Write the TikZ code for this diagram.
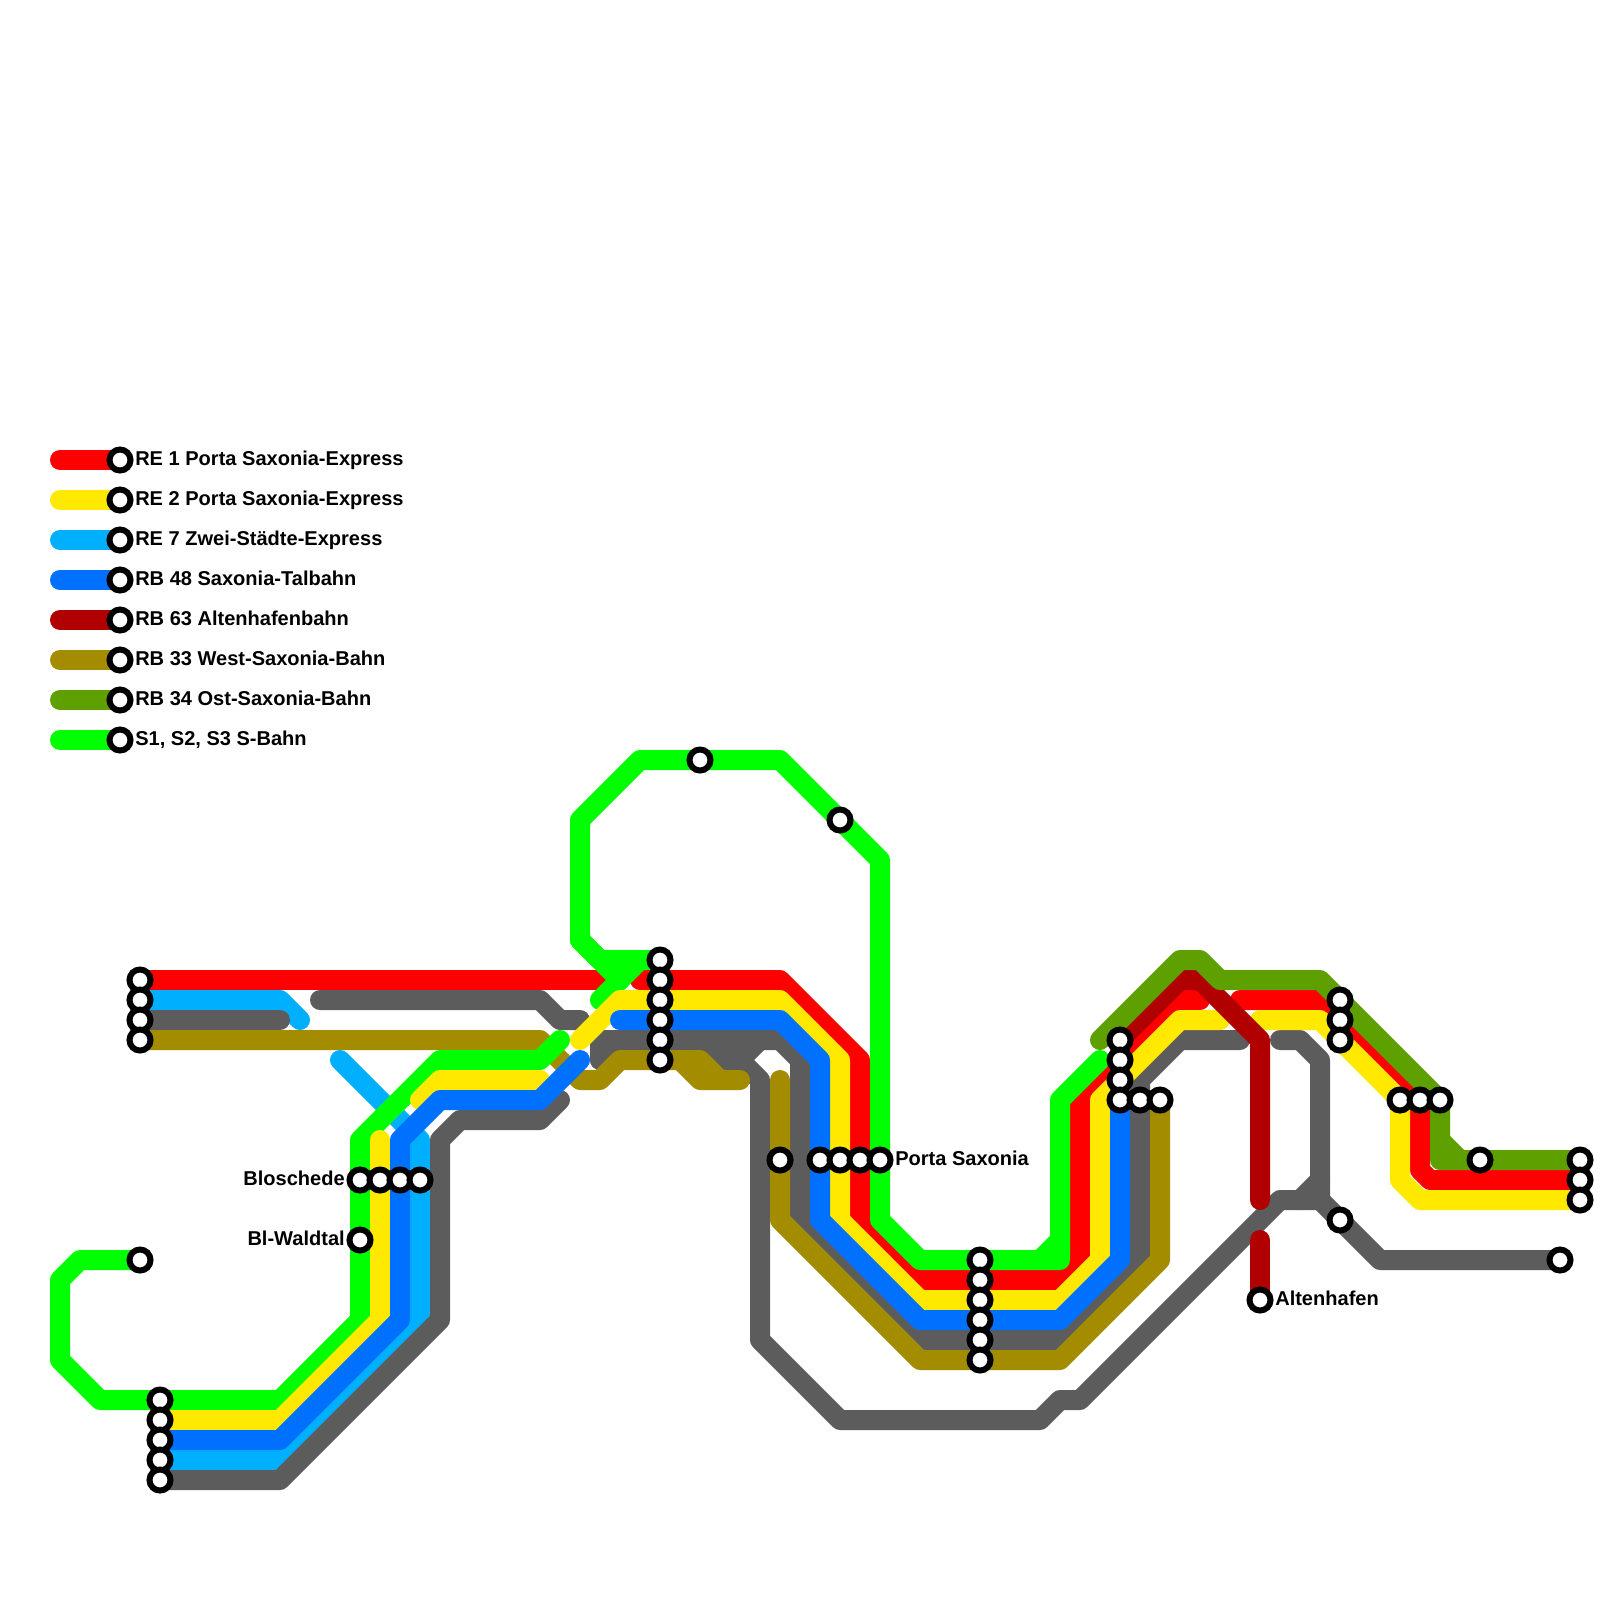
\documentclass[tikz,border=0pt]{standalone}
\usepackage{fontspec}
\setmainfont{Liberation Sans}
\usetikzlibrary{backgrounds}
\definecolor{re1}{HTML}{FF0000}
\definecolor{re2}{HTML}{FFE900}
\definecolor{re7}{HTML}{00B0FF}
\definecolor{rb48}{HTML}{0070FF}
\definecolor{rb63}{HTML}{B00000}
\definecolor{rb33}{HTML}{A38C00}
\definecolor{rb34}{HTML}{5EA000}
\definecolor{sbn}{HTML}{00FF00}
\definecolor{alt}{HTML}{5C5C5C}
\begin{document}
\begin{tikzpicture}[x=0.5cm, y=-0.5cm, font=\bfseries\fontsize{14.25}{16}\selectfont]
  \tikzstyle{trk}=[line width=0.5cm, line cap=round, line join=round]
  \tikzstyle{stn}=[circle, draw=black, fill=white, line width=0.15cm,
                   minimum size=0.525cm, inner sep=0pt]
  \tikzstyle{lbl}=[inner sep=0pt]

  % ================= legend =============
  \node[stn] (lg1) at (6,23) {};
  \node[stn] (lg2) at (6,25) {};
  \node[stn] (lg3) at (6,27) {};
  \node[stn] (lg4) at (6,29) {};
  \node[stn] (lg5) at (6,31) {};
  \node[stn] (lg6) at (6,33) {};
  \node[stn] (lg7) at (6,35) {};
  \node[stn] (lg8) at (6,37) {};
  \coordinate (ls1) at (3,23);
  \coordinate (ls2) at (3,25);
  \coordinate (ls3) at (3,27);
  \coordinate (ls4) at (3,29);
  \coordinate (ls5) at (3,31);
  \coordinate (ls6) at (3,33);
  \coordinate (ls7) at (3,35);
  \coordinate (ls8) at (3,37);
  \node[lbl, anchor=base west] (lt1) at (6.75,23.25) {RE 1 Porta Saxonia-Express};
  \node[lbl, anchor=base west] (lt2) at (6.75,25.25) {RE 2 Porta Saxonia-Express};
  \node[lbl, anchor=base west] (lt3) at (6.75,27.25) {RE 7 Zwei-Städte-Express};
  \node[lbl, anchor=base west] (lt4) at (6.75,29.25) {RB 48 Saxonia-Talbahn};
  \node[lbl, anchor=base west] (lt5) at (6.75,31.25) {RB 63 Altenhafenbahn};
  \node[lbl, anchor=base west] (lt6) at (6.75,33.25) {RB 33 West-Saxonia-Bahn};
  \node[lbl, anchor=base west] (lt7) at (6.75,35.25) {RB 34 Ost-Saxonia-Bahn};
  \node[lbl, anchor=base west] (lt8) at (6.75,37.25) {S1, S2, S3 S-Bahn};

  % ================= stations, west =============
  \node[stn] (w1) at (7,49) {};
  \node[stn] (w2) at (7,50) {};
  \node[stn] (w3) at (7,51) {};
  \node[stn] (w4) at (7,52) {};
  \node[stn] (k1) at (7,63) {};
  \node[stn] (u1) at (8,70) {};
  \node[stn] (u2) at (8,71) {};
  \node[stn] (u3) at (8,72) {};
  \node[stn] (u4) at (8,73) {};
  \node[stn] (u5) at (8,74) {};
  \node[stn] (bl1) at (18,59) {};
  \node[stn] (bl2) at (19,59) {};
  \node[stn] (bl3) at (20,59) {};
  \node[stn] (bl4) at (21,59) {};
  \node[stn] (wt1) at (18,62) {};
  \node[lbl, anchor=base east] (blt) at (17.25,59.25) {Bloschede};
  \node[lbl, anchor=base east] (wtt) at (17.25,62.25) {Bl-Waldtal};

  % ================= stations, middle =============
  \node[stn] (n1) at (33,48) {};
  \node[stn] (n2) at (33,49) {};
  \node[stn] (n3) at (33,50) {};
  \node[stn] (n4) at (33,51) {};
  \node[stn] (n5) at (33,52) {};
  \node[stn] (n6) at (33,53) {};
  \node[stn] (t1) at (35,38) {};
  \node[stn] (t2) at (42,41) {};
  \node[stn] (p0) at (39,58) {};
  \node[stn] (p1) at (41,58) {};
  \node[stn] (p2) at (42,58) {};
  \node[stn] (p3) at (43,58) {};
  \node[stn] (p4) at (44,58) {};
  \node[lbl, anchor=base west] (pt) at (44.75,58.25) {Porta Saxonia};
  \node[stn] (m1) at (49,63) {};
  \node[stn] (m2) at (49,64) {};
  \node[stn] (m3) at (49,65) {};
  \node[stn] (m4) at (49,66) {};
  \node[stn] (m5) at (49,67) {};
  \node[stn] (m6) at (49,68) {};

  % ================= stations, east =============
  \node[stn] (e1) at (56,52) {};
  \node[stn] (e2) at (56,53) {};
  \node[stn] (e3) at (56,54) {};
  \node[stn] (e4) at (56,55) {};
  \node[stn] (e5) at (57,55) {};
  \node[stn] (e6) at (58,55) {};
  \node[stn] (ah) at (63,65) {};
  \node[lbl, anchor=base west] (aht) at (63.75,65.25) {Altenhafen};
  \node[stn] (f1) at (67,50) {};
  \node[stn] (f2) at (67,51) {};
  \node[stn] (f3) at (67,52) {};
  \node[stn] (g1) at (67,61) {};
  \node[stn] (r1) at (70,55) {};
  \node[stn] (r2) at (71,55) {};
  \node[stn] (r3) at (72,55) {};
  \node[stn] (q1) at (74,58) {};
  \node[stn] (z1) at (79,58) {};
  \node[stn] (z2) at (79,59) {};
  \node[stn] (z3) at (79,60) {};
  \node[stn] (y1) at (78,63) {};

  \begin{scope}[on background layer]
    \fill[white] (0,0) rectangle (80,80);

    % ================= legend bars =============
    \draw[trk, re1] (ls1) -- (lg1.center);
    \draw[trk, re2] (ls2) -- (lg2.center);
    \draw[trk, re7] (ls3) -- (lg3.center);
    \draw[trk, rb48] (ls4) -- (lg4.center);
    \draw[trk, rb63] (ls5) -- (lg5.center);
    \draw[trk, rb33] (ls6) -- (lg6.center);
    \draw[trk, rb34] (ls7) -- (lg7.center);
    \draw[trk, sbn] (ls8) -- (lg8.center);

    % ================= RE 1 =============
    \draw[trk, re1] (w1.center) -- (30.5,49);
    \draw[trk, re1] (32,49) -- (39,49) -- (43,53) -- (43,61) -- (46,64)
                    -- (53,64) -- (54,63) -- (54,55) -- (59,50) -- (60,50);
    \draw[trk, re1] (62,50) -- (66,50) -- (71,55) -- (71,58.5) -- (71.5,59)
                    -- (z2.center);

    % ================= RE 7 =============
    \draw[trk, re7] (w2.center) -- (14,50) -- (15,51);
    \draw[trk, re7] (17,53) -- (21,57) -- (21,66) -- (14,73) -- (u4.center);

    % ================= grey =============
    \draw[trk, alt] (w3.center) -- (14,51);
    \draw[trk, alt] (16,50) -- (27,50) -- (28,51) -- (29,51);
    \draw[trk, alt] (u5.center) -- (14,74) -- (22,66) -- (22,57) -- (23,56)
                    -- (27,56) -- (28,55);
    \draw[trk, alt] (30,53) -- (30,52) -- (39,52) -- (40,53) -- (40,61) -- (46,67)
                    -- (53,67) -- (57,63) -- (57,54) -- (59,52) -- (62,52);
    \draw[trk, alt] (30,53) -- (31,52);
    \draw[trk, alt] (y1.center) -- (69,63) -- (66,60) -- (64,60) -- (54,70) -- (53,70)
                    -- (52,71) -- (42,71) -- (38,67) -- (38,54) -- (37,53)
                    -- (36,53) -- (35,52);
    \draw[trk, alt] (37,53) -- (38,52);
    \draw[trk, alt] (64,52) -- (65,52) -- (66,53) -- (66,60);
    \draw[trk, alt] (66,59) -- (65,60);

    % ================= RB 33 =============
    \draw[trk, rb33] (w4.center) -- (27,52) -- (29,54) -- (30,54) -- (31,53)
                     -- (35,53) -- (36,54) -- (37,54);
    \draw[trk, rb33] (34,53) -- (35,54) -- (36,54);
    \draw[trk, rb33] (39,54) -- (39,61) -- (46,68) -- (53,68) -- (58,63) -- (e6.center);

    % ================= S-Bahn =============
    \draw[trk, sbn] (k1.center) -- (4,63) -- (3,64) -- (3,68) -- (5,70) -- (14,70)
                    -- (18,66) -- (18,57) -- (22,53) -- (27,53) -- (28,52);
    \draw[trk, sbn] (n1.center) -- (30,48) -- (29,47) -- (29,41) -- (32,38) -- (39,38)
                    -- (44,43) -- (44,61) -- (46,63) -- (53,63) -- (53,55) -- (55,53);
    \draw[trk, sbn] (52,63) -- (53,62);
    \draw[trk, sbn] (29,47) -- (31,49);
    \draw[trk, sbn] (30,50) -- (32,48);

    % ================= RE 2 =============
    \draw[trk, re2] (u2.center) -- (14,71) -- (19,66) -- (19,57);
    \draw[trk, re2] (21,55) -- (22,54) -- (27,54);
    \draw[trk, re2] (29,52) -- (31,50) -- (39,50) -- (42,53) -- (42,61) -- (46,65)
                    -- (53,65) -- (55,63) -- (55,55) -- (59,51) -- (61,51);
    \draw[trk, re2] (63,51) -- (66,51) -- (70,55) -- (70,59) -- (71,60) -- (z3.center);

    % ================= RB 48 =============
    \draw[trk, rb48] (u3.center) -- (14,72) -- (20,66) -- (20,57) -- (22,55) -- (27,55)
                     -- (29,53);
    \draw[trk, rb48] (31,51) -- (39,51) -- (41,53) -- (41,61) -- (46,66) -- (53,66)
                     -- (56,63) -- (e4.center);

    % ================= RB 63 =============
    \draw[trk, rb63] (e1.center) -- (59,49) -- (60,49) -- (63,52) -- (63,60);
    \draw[trk, rb63] (63,62) -- (ah.center);

    % ================= RB 34 =============
    \draw[trk, rb34] (55,52) -- (59,48) -- (60,48) -- (61,49) -- (66,49) -- (72,55)
                     -- (72,58) -- (z1.center);
    \draw[trk, rb34] (72,57) -- (73,58);
  \end{scope}

  \useasboundingbox (0,0) rectangle (80,80);
\end{tikzpicture}
\end{document}
